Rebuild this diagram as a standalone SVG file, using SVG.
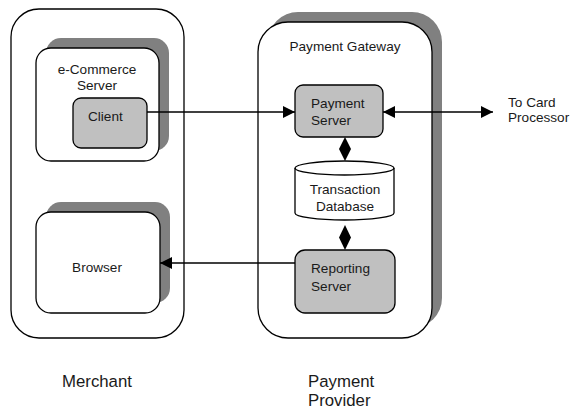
<svg xmlns="http://www.w3.org/2000/svg" width="570" height="410" viewBox="0 0 570 410">
<defs>
<style>
.box{fill:#fff;stroke:#000;stroke-width:1.3}
.gbox{fill:#c0c0c0;stroke:#000;stroke-width:1.3}
.shadow{fill:#808080;stroke:none}
.t{font-family:"Liberation Sans",Arial,sans-serif;font-size:13.6px;fill:#1a1a1a}
.big{font-family:"Liberation Sans",Arial,sans-serif;font-size:16.8px;fill:#1a1a1a}
.line{stroke:#000;stroke-width:1.3;fill:none}
.head{fill:#000;stroke:none}
</style>
<marker id="arrow" viewBox="0 0 12 12" refX="12" refY="6" markerWidth="12" markerHeight="12" markerUnits="userSpaceOnUse" orient="auto-start-reverse">
<path d="M0,0 L12,6 L0,12 Z" class="head"/>
</marker>
</defs>
<g id="merchant">
<rect class="box" x="11" y="9" width="173" height="329" rx="28"/>
</g>
<g id="ecommerce-server">
<rect class="shadow" x="46" y="38" width="123" height="113" rx="15"/>
<rect class="box" x="36" y="48" width="123" height="113" rx="15"/>
<text class="t" x="97" y="74" text-anchor="middle">e-Commerce</text>
<text class="t" x="97" y="90" text-anchor="middle">Server</text>
</g>
<g id="client">
<rect class="gbox" x="73" y="98" width="74" height="50" rx="8"/>
<text class="t" x="88" y="121">Client</text>
</g>
<g id="browser">
<rect class="shadow" x="46" y="202" width="124" height="101" rx="15"/>
<rect class="box" x="36" y="212" width="124" height="101" rx="15"/>
<text class="t" x="97" y="272" text-anchor="middle">Browser</text>
</g>
<g id="payment-gateway">
<rect class="shadow" x="268" y="12" width="174" height="316" rx="30"/>
<rect class="box" x="258" y="22" width="174" height="316" rx="30"/>
<text class="t" x="345" y="51" text-anchor="middle">Payment Gateway</text>
</g>
<g id="payment-server">
<rect class="gbox" x="295" y="85" width="88" height="52" rx="8"/>
<text class="t" x="311" y="108">Payment</text>
<text class="t" x="311" y="125">Server</text>
</g>
<g id="transaction-database">
<path class="box" d="M295,168 L295,213 A49.5,7 0 0 0 394,213 L394,168 A49.5,7 0 0 0 295,168 Z"/>
<path class="line" d="M295,168 A49.5,7 0 0 0 394,168"/>
<text class="t" x="345" y="194" text-anchor="middle">Transaction</text>
<text class="t" x="345" y="211" text-anchor="middle">Database</text>
</g>
<g id="reporting-server">
<rect class="gbox" x="295" y="250" width="100" height="63" rx="10"/>
<text class="t" x="311" y="273">Reporting</text>
<text class="t" x="311" y="291">Server</text>
</g>
<g id="card-processor">
<text class="t" x="508" y="107">To Card</text>
<text class="t" x="508" y="122">Processor</text>
</g>
<g id="connectors">
<line class="line" x1="147" y1="112" x2="295" y2="112" marker-end="url(#arrow)"/>
<line class="line" x1="383" y1="112" x2="493" y2="112" marker-start="url(#arrow)" marker-end="url(#arrow)"/>
<polygon class="head" points="345,137 351,149 345,161 339,149"/>
<polygon class="head" points="345,225 351,237.5 345,250 339,237.5"/>
<line class="line" x1="295" y1="263" x2="160" y2="263" marker-end="url(#arrow)"/>
</g>
<g id="labels">
<text class="big" x="62" y="387">Merchant</text>
<text class="big" x="308" y="387">Payment</text>
<text class="big" x="308" y="406">Provider</text>
</g>
</svg>
